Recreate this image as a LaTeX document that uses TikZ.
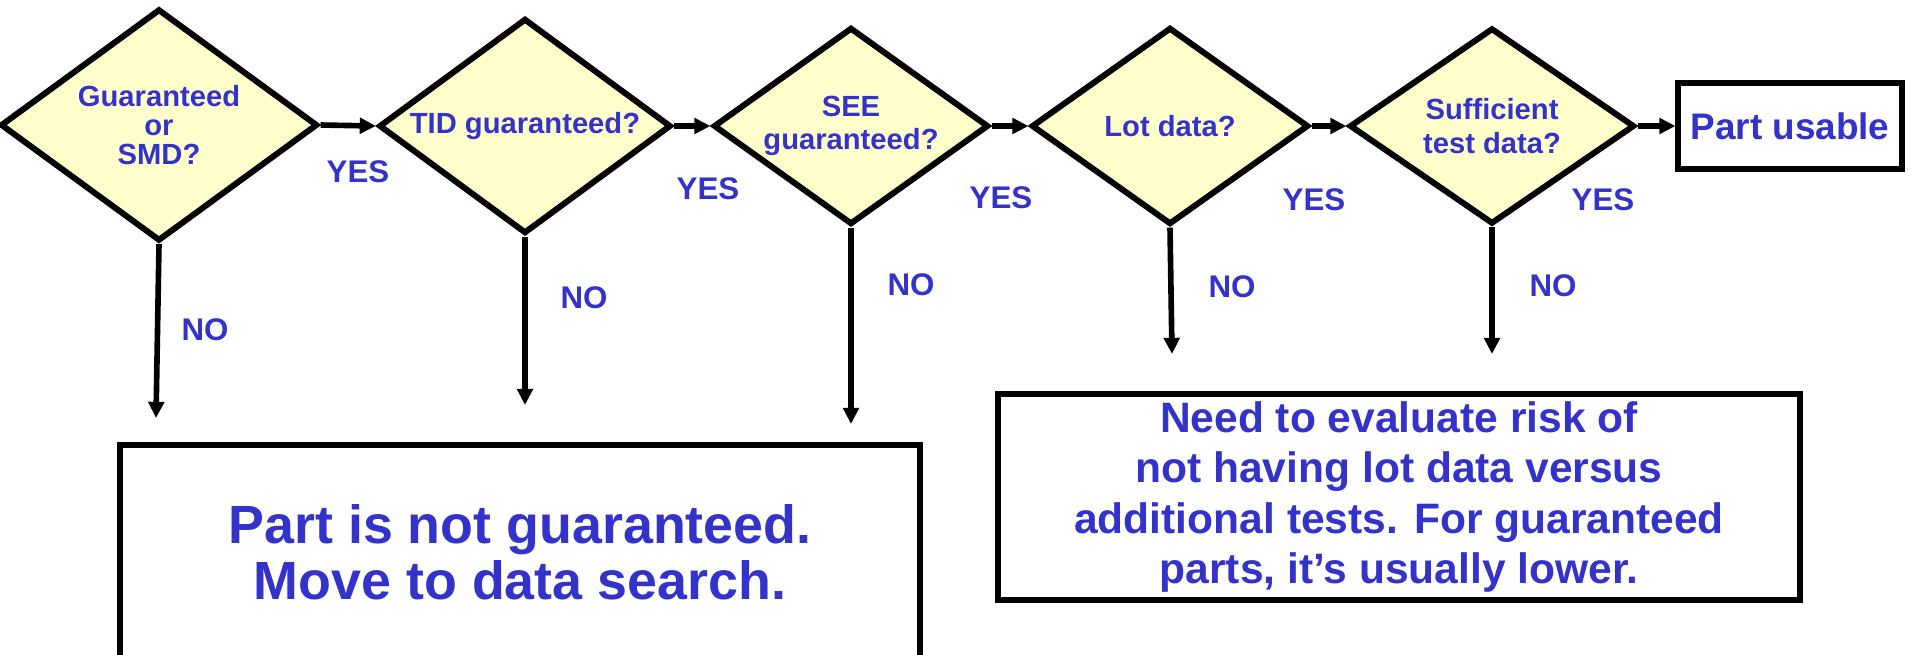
\documentclass[tikz,border=0pt]{standalone}
\usepackage{fontspec}
\setmainfont{Liberation Sans}
\usetikzlibrary{arrows.meta,shapes.geometric,positioning}
\definecolor{txtblue}{RGB}{51,51,204}
\definecolor{qfill}{RGB}{255,255,204}

\begin{document}
\begin{tikzpicture}[x=0.01cm,y=-0.01cm,
  decision/.style={diamond, draw, line width=1.7pt, fill=qfill, inner sep=0pt, aspect=1.4,
    text=txtblue, align=center, font=\bfseries\fontsize{8.3}{9.6}\selectfont},
  outbox/.style={rectangle, draw, line width=1.7pt, fill=white, inner sep=0pt,
    text=txtblue, align=center},
  flow/.style={-{Triangle[length=4.6pt,width=4.4pt]}, line width=1.6pt},
  lbl/.style={text=txtblue, font=\bfseries\fontsize{8.9}{10}\selectfont}]
\clip (0,0) rectangle (1915,654);
% Decisions
\node[decision, minimum width=3.17cm, minimum height=2.32cm,
  font=\bfseries\fontsize{8.3}{8.2}\selectfont] (d1) at (159,125) {Guaranteed\\or\\SMD?};
\node[decision, minimum width=2.92cm, minimum height=2.15cm] (d2) at (525,126) {TID guaranteed?};
\node[decision, minimum width=2.75cm, minimum height=1.97cm] (d3) at (851,126) {SEE\\guaranteed?};
\node[decision, minimum width=2.77cm, minimum height=1.97cm] (d4) at (1170,126) {Lot data?};
\node[decision, minimum width=2.85cm, minimum height=1.96cm] (d5) at (1492,126) {Sufficient\\test data?};
% Outcomes
\node[outbox, minimum width=2.23cm, minimum height=0.85cm,
  font=\bfseries\fontsize{10.5}{12}\selectfont] (use) at (1790,126) {Part usable};
\node[outbox, minimum width=7.99cm, minimum height=2.14cm,
  font=\bfseries\fontsize{15.3}{16}\selectfont] (nog) at (520,552)
  {Part is not guaranteed.\\Move to data search.};
\node[outbox, minimum width=8.02cm, minimum height=2.05cm,
  font=\bfseries\fontsize{12.1}{14.3}\selectfont] (risk) at (1399,497)
  {Need to evaluate risk of\\not having lot data versus\\additional tests. For guaranteed\\parts, it’s usually lower.};
% YES path
\foreach \a/\b in {d1/d2,d2/d3,d3/d4,d4/d5,d5/use}
  \draw[flow] (\a.east) -- (\b.west);
\foreach \i/\x/\y in {1/358/172,2/708/189,3/1001/198,4/1314/200,5/1603/200}
  \node[lbl] (yes\i) at (\x,\y) {YES};
% NO path
\foreach \i/\x/\y in {1/156/418,2/525/405,3/851/424,4/1172/354,5/1492/354} {
  \coordinate (no\i end) at (\x,\y);
  \draw[flow] (d\i.south) -- (no\i end);
}
\foreach \i/\x/\y in {1/205/330,2/584/298,3/911/285,4/1232/287,5/1553/286}
  \node[lbl] (no\i) at (\x,\y) {NO};
\end{tikzpicture}
\end{document}
